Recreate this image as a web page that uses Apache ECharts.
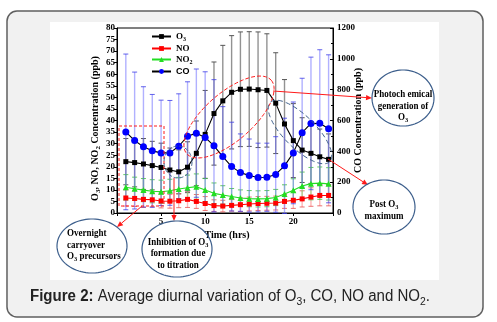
<!DOCTYPE html>
<html>
<head>
<meta charset="utf-8">
<script src="https://cdn.jsdelivr.net/npm/echarts@6/dist/echarts.min.js"></script>
<style>
  html, body { margin: 0; padding: 0; background: #ffffff; }
  #chart { width: 497px; height: 322px; }
</style>
</head>
<body>
<div id="chart"></div>
<script>
// Hour of day (hrs)
const hours = [1, 2, 3, 4, 5, 6, 7, 8, 9, 10, 11, 12, 13, 14, 15, 16, 17, 18, 19, 20, 21, 22, 23, 24];

// O3 (ppb): mean and standard deviation
const o3Mean = [22.2, 21.8, 21.2, 20.5, 19.7, 18.6, 17.8, 19.8, 25.8, 34.0, 43.0, 48.5, 52.2, 53.5, 53.6, 53.3, 53.0, 47.5, 38.5, 31.3, 27.2, 25.8, 24.3, 23.2];
const o3Sd   = [10.0, 10.5, 11.0, 10.5, 10.5, 9.5, 9.5, 11.0, 14.0, 19.0, 22.3, 24.0, 24.5, 24.8, 24.8, 25.0, 24.5, 21.8, 19.2, 16.0, 14.0, 13.0, 12.0, 11.0];

// NO (ppb)
const noMean = [6.5, 6.3, 5.9, 5.7, 5.2, 5.1, 5.3, 5.9, 5.0, 4.1, 3.2, 3.0, 3.3, 3.6, 3.9, 4.1, 4.2, 4.3, 5.0, 5.5, 6.1, 6.9, 7.6, 7.6];
const noSd   = [3.5, 3.5, 3.5, 3.0, 3.0, 3.0, 3.0, 3.5, 3.0, 3.0, 2.5, 2.5, 2.5, 3.0, 3.0, 3.0, 3.0, 3.0, 3.0, 3.5, 3.5, 4.0, 4.5, 4.5];

// NO2 (ppb)
const no2Mean = [11.1, 10.5, 9.9, 9.4, 9.2, 9.6, 10.4, 10.9, 11.4, 9.9, 8.5, 7.8, 7.1, 6.5, 6.2, 6.1, 6.2, 6.7, 8.2, 9.8, 11.7, 12.7, 12.9, 12.6];
const no2Sd   = [5.5, 5.0, 5.0, 5.0, 5.0, 5.0, 5.0, 5.5, 5.5, 5.0, 4.5, 4.0, 3.5, 3.5, 3.5, 3.5, 3.5, 3.5, 4.0, 5.0, 6.0, 7.0, 7.0, 7.0];

// CO (ppb, right axis)
const coMean = [526, 470, 429, 403, 390, 390, 433, 498, 518, 490, 436, 366, 301, 262, 243, 230, 232, 250, 306, 390, 521, 581, 582, 546];
const coSd   = [505, 444, 390, 366, 342, 340, 340, 353, 416, 426, 429, 324, 288, 251, 237, 223, 221, 245, 309, 330, 353, 430, 477, 480];

// Axis tick settings
const leftTicks = { min: 0, max: 80, interval: 5 };
const rightTicks = { min: 0, max: 1200, interval: 200 };
const timeTicks = { min: 0, max: 24.5, interval: 5 };

const SERIF = '"Liberation Serif", "Times New Roman", serif';
const SANS = '"Liberation Sans", Arial, sans-serif';

const richSerif = (size) => ({
  b: { fontFamily: SERIF, fontWeight: 'bold', fontSize: size, color: '#000' },
  s: { fontFamily: SERIF, fontWeight: 'bold', fontSize: Math.round(size * 0.7), color: '#000', padding: [Math.round(size * 0.55), 0, 0, 0] },
  c: { fontFamily: SANS, fontWeight: 'bold', fontSize: size, color: '#000' }
});

function errorBars(values, sds, color, capColor, yAxisIndex) {
  return {
    type: 'custom',
    yAxisIndex: yAxisIndex,
    silent: true,
    z: 1,
    encode: { x: 0, y: [1, 2] },
    data: hours.map((h, i) => [h, values[i] - sds[i], values[i] + sds[i]]),
    renderItem: function (params, api) {
      const x = api.value(0);
      const lo = api.coord([x, api.value(1)]);
      const hi = api.coord([x, api.value(2)]);
      const w = 2.5;
      return {
        type: 'group',
        children: [
          { type: 'line', shape: { x1: lo[0], y1: lo[1], x2: hi[0], y2: hi[1] }, style: { stroke: color, lineWidth: 1.4 } },
          { type: 'line', shape: { x1: lo[0] - w, y1: lo[1], x2: lo[0] + w, y2: lo[1] }, style: { stroke: capColor, lineWidth: 1 } },
          { type: 'line', shape: { x1: hi[0] - w, y1: hi[1], x2: hi[0] + w, y2: hi[1] }, style: { stroke: capColor, lineWidth: 1 } }
        ]
      };
    }
  };
}

function lineSeries(name, values, lineColor, markColor, symbol, size, yAxisIndex) {
  return {
    name: name,
    type: 'line',
    yAxisIndex: yAxisIndex,
    z: 5,
    symbol: symbol,
    symbolSize: size,
    showAllSymbol: true,
    data: hours.map((h, i) => [h, values[i]]),
    lineStyle: { color: lineColor, width: 1.1 },
    itemStyle: { color: markColor, borderWidth: 0 },
    emphasis: { disabled: true },
    animation: false
  };
}

// --- annotation helpers (pixel space) ---
function ellipsePoints(cx, cy, a, b, deg) {
  const t = deg * Math.PI / 180;
  const pts = [];
  for (let k = 0; k < 90; k++) {
    const u = k / 90 * 2 * Math.PI;
    const ex = a * Math.cos(u), ey = b * Math.sin(u);
    pts.push([cx + ex * Math.cos(t) - ey * Math.sin(t), cy + ex * Math.sin(t) + ey * Math.cos(t)]);
  }
  return pts;
}
function ellipse(cx, cy, a, b, deg, color, dash, width) {
  return {
    type: 'polygon', z: 100, silent: true,
    shape: { points: ellipsePoints(cx, cy, a, b, deg) },
    style: { fill: null, stroke: color, lineWidth: width || 1, lineDash: dash || null }
  };
}
function arrow(x1, y1, x2, y2, color) {
  const ang = Math.atan2(y2 - y1, x2 - x1);
  const L = 6, W = 2.6;
  const bx = x2 - L * Math.cos(ang), by = y2 - L * Math.sin(ang);
  const px = -Math.sin(ang) * W, py = Math.cos(ang) * W;
  return [
    { type: 'line', z: 100, silent: true, shape: { x1: x1, y1: y1, x2: bx, y2: by }, style: { stroke: color, lineWidth: 1 } },
    { type: 'polygon', z: 100, silent: true, shape: { points: [[x2, y2], [bx + px, by + py], [bx - px, by - py]] }, style: { fill: color } }
  ];
}
function label(x, y, text, align) {
  return {
    type: 'text', z: 101, silent: true, x: x, y: y, scaleX: 0.9,
    style: {
      text: text, rich: richSerif(10), align: align || 'center', verticalAlign: 'middle',
      font: 'bold 10px ' + SERIF, fill: '#000'
    }
  };
}

const RED = '#ff1a1a';
const NAVY = '#3d5f8c';

const graphics = [
  // card and figure panel
  { type: 'rect', z: -10, silent: true, shape: { x: 7, y: 11, width: 476, height: 306, r: 10 }, style: { fill: '#f1f1f1', stroke: '#5f5f5f', lineWidth: 1.5 } },
  { type: 'rect', z: -9, silent: true, shape: { x: 50, y: 22, width: 389, height: 258 }, style: { fill: '#ffffff' } },
  // caption
  {
    type: 'text', z: 101, silent: true, x: 30, y: 297, scaleX: 0.94,
    style: {
      text: '{fb|Figure 2:} Average diurnal variation of O{fs|3}, CO, NO and NO{fs|2}.',
      font: '16px ' + SANS, fill: '#222', verticalAlign: 'middle',
      rich: {
        fb: { fontFamily: SANS, fontWeight: 'bold', fontSize: 16, color: '#222' },
        fs: { fontFamily: SANS, fontSize: 11, color: '#222', padding: [9, 0, 0, 0] }
      }
    }
  },
  // overnight box
  { type: 'rect', z: 100, silent: true, shape: { x: 119, y: 126, width: 45, height: 80 }, style: { fill: null, stroke: RED, lineWidth: 1, lineDash: [3, 2] } },
  ...arrow(142, 206, 117, 227, RED),
  // titration minimum
  ellipse(178, 162, 14, 16, 0, NAVY, [4, 2], 1),
  ...arrow(174, 178, 174, 221, RED),
  // O3 peak
  ellipse(229, 117, 56, 24, -41, RED, [4, 2], 1),
  ...arrow(273, 91, 372, 98, RED),
  // post-peak decline
  ellipse(300, 132, 42, 16, 45, NAVY, [5, 3], 1),
  ...arrow(328, 159, 368, 185, RED),
  // callouts
  ellipse(403, 98, 31, 28, 0, NAVY, null, 1.2),
  label(403, 94, '{b|Photoch emical}'),
  label(403, 106, '{b|generation of}'),
  label(403, 117, '{b|O}{s|3}'),
  ellipse(384, 207, 31, 27, 0, NAVY, null, 1.2),
  label(384, 204, '{b|Post O}{s|3}'),
  label(384, 216, '{b|maximum}'),
  ellipse(92, 246, 35, 27, 0, NAVY, null, 1.2),
  label(67, 233, '{b|Overnight}', 'left'),
  label(67, 245, '{b|carryover}', 'left'),
  label(67, 256, '{b|O}{s|3}{b| precursors}', 'left'),
  ellipse(177, 249, 35, 28, 0, NAVY, null, 1.2),
  label(178, 242, '{b|Inhibition of O}{s|3}'),
  label(178, 253, '{b|formation due}'),
  label(178, 265, '{b|to titration}')
];

const legendNames = { 'O3': '{b|O}{s|3}', 'NO': '{b|NO}', 'NO2': '{b|NO}{s|2}', 'CO': '{c|CO}' };

const option = {
  animation: false,
  backgroundColor: '#ffffff',
  grid: { left: 117, right: 164, top: 28, bottom: 109, show: true, borderColor: '#000', borderWidth: 1, backgroundColor: 'transparent' },
  legend: {
    data: ['O3', 'NO', 'NO2', 'CO'],
    orient: 'vertical', left: 146, top: 27,
    itemWidth: 19, itemHeight: 6, itemGap: 2,
    formatter: (n) => legendNames[n],
    textStyle: { rich: richSerif(9), fontSize: 9 },
    selectedMode: false
  },
  xAxis: {
    type: 'value', min: timeTicks.min, max: timeTicks.max, interval: timeTicks.interval,
    name: 'Time (hrs)', nameLocation: 'middle', nameGap: 14,
    nameTextStyle: { fontFamily: SERIF, fontWeight: 'bold', fontSize: 10, color: '#000', padding: [0, 0, 0, 4] },
    axisLine: { lineStyle: { color: '#000', width: 1 } },
    axisTick: { length: 3, lineStyle: { color: '#000' } },
    axisLabel: { margin: 4, fontFamily: SERIF, fontWeight: 'bold', fontSize: 9, color: '#000', formatter: (v) => (v > 0 && v % 5 === 0) ? String(v) : '' },
    splitLine: { show: false }
  },
  yAxis: [
    {
      type: 'value', position: 'left', min: leftTicks.min, max: leftTicks.max, interval: leftTicks.interval,
      name: '{b|O}{s|3}{b|, NO, NO}{s|2}{b| Concentration (ppb)}', nameLocation: 'middle', nameGap: 14,
      nameTextStyle: { rich: richSerif(10), padding: [0, 16, 0, 0] },
      axisLine: { show: true, lineStyle: { color: '#000', width: 1 } },
      axisTick: { show: true, length: 3, lineStyle: { color: '#000' } },
      axisLabel: { margin: 2, fontFamily: SERIF, fontWeight: 'bold', fontSize: 9, color: '#000' },
      splitLine: { show: false }
    },
    {
      type: 'value', position: 'right', min: rightTicks.min, max: rightTicks.max, interval: rightTicks.interval,
      name: 'CO Concentration (ppb)', nameLocation: 'middle', nameGap: 20, nameMoveOverlap: false,
      nameTextStyle: { fontFamily: SERIF, fontWeight: 'bold', fontSize: 10, color: '#000' },
      axisLine: { show: true, lineStyle: { color: '#000', width: 1 } },
      axisTick: { show: true, inside: true, length: 3, lineStyle: { color: '#000' } },
      minorTick: { show: true, splitNumber: 2, length: 2, lineStyle: { color: '#000' } },
      axisLabel: { margin: 4, fontFamily: SERIF, fontWeight: 'bold', fontSize: 9, color: '#000', formatter: (v) => String(v) },
      splitLine: { show: false }
    }
  ],
  series: [
    errorBars(o3Mean, o3Sd, 'rgba(110,110,110,0.75)', '#555', 0),
    errorBars(noMean, noSd, 'rgba(255,120,120,0.55)', 'rgba(230,80,80,0.8)', 0),
    errorBars(no2Mean, no2Sd, 'rgba(110,225,110,0.55)', 'rgba(60,190,60,0.8)', 0),
    errorBars(coMean, coSd, 'rgba(100,100,255,0.5)', 'rgba(60,60,230,0.8)', 1),
    lineSeries('O3', o3Mean, '#000', '#000', 'rect', 5, 0),
    lineSeries('NO', noMean, '#ff0000', '#ff0000', 'rect', 5, 0),
    lineSeries('NO2', no2Mean, '#22dd22', '#22dd22', 'triangle', 6, 0),
    lineSeries('CO', coMean, '#000', '#0000ff', 'circle', 7, 1)
  ],
  graphic: { elements: graphics }
};

const chart = echarts.init(document.getElementById('chart'), null, { renderer: 'canvas' });
chart.setOption(option);
</script>
</body>
</html>
